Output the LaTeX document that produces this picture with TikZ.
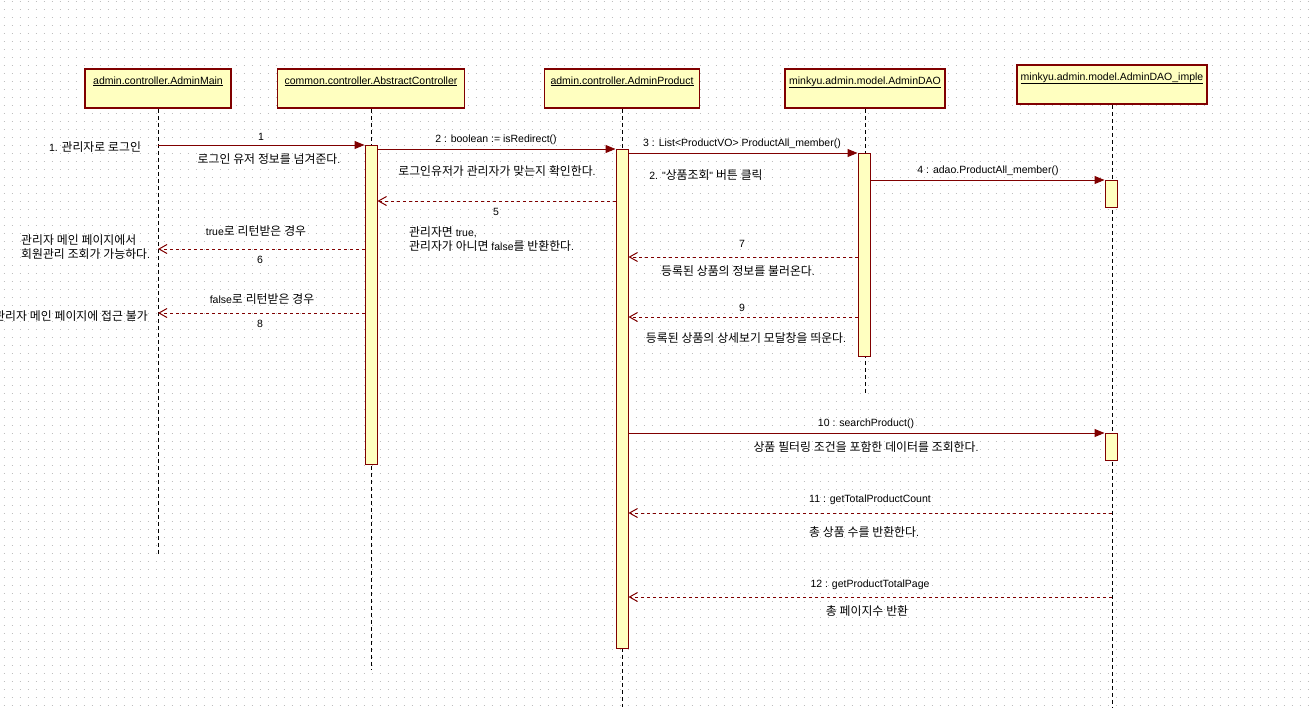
\documentclass[tikz,border=0pt]{standalone}
\usepackage{fontspec}
\setmainfont{Liberation Sans}[Ligatures=TeXOff]
\newfontfamily\latfont{Liberation Sans}[Ligatures=TeXOff]
\newfontfamily\hanfont{Noto Sans CJK KR}[Scale=1.13]
% hangul syllables switch to the korean face
\XeTeXinterchartokenstate=1
\newXeTeXintercharclass\hanclass
\count255="AC00
\loop\XeTeXcharclass\count255=\hanclass\advance\count255 by 1 \ifnum\count255<"D7A4 \repeat
\XeTeXinterchartoks 0 \hanclass = {\hanfont}
\XeTeXinterchartoks 4095 \hanclass = {\hanfont}
\XeTeXinterchartoks \hanclass 0 = {\latfont}
\XeTeXinterchartoks \hanclass 4095 = {\latfont}
\usetikzlibrary{arrows.meta}
\pgfdeclarelayer{bg}
\pgfsetlayers{bg,main}
\definecolor{umlred}{RGB}{128,0,0}
\definecolor{umlnote}{RGB}{255,255,192}
\definecolor{umldot}{RGB}{190,190,190}
\tikzset{
  obj/.style={draw=umlred, line width=1.5pt, fill=umlnote, inner sep=0pt, minimum height=39pt},
  act/.style={draw=umlred, line width=1pt, fill=umlnote, inner sep=0pt, minimum width=12pt, anchor=north},
  life/.style={black, line width=1pt, dash pattern=on 4pt off 3pt},
  call/.style={umlred, line width=1pt, -{Triangle[length=10pt,width=8pt]}},
  ret/.style={umlred, line width=1pt, dash pattern=on 3pt off 3pt, -{Straight Barb[length=8pt,width=9pt]}},
  msg/.style={inner sep=0pt},
  title/.style={label={[anchor=north, inner sep=0pt, yshift=-8pt]north:\underline{#1}}}
}
\begin{document}
\begin{tikzpicture}[x=1pt, y=-1pt, font=\fontsize{10.5}{14}\selectfont]
        \useasboundingbox (0,0) rectangle (1313,707);
        \clip (0,0) rectangle (1313,707);
        % lifeline heads
        \node (h0) [obj, minimum width=146pt, title={admin.controller.AdminMain}] at (158,88.5) {};
        \node (h1) [obj, minimum width=187pt, title={common.controller.AbstractController}] at (371,88.5) {};
        \node (h2) [obj, minimum width=155pt, title={admin.controller.AdminProduct}] at (622,88.5) {};
        \node (h3) [obj, minimum width=160pt, title={minkyu.admin.model.AdminDAO}] at (865,88.5) {};
        \node (h4) [obj, minimum width=190pt, title={minkyu.admin.model.AdminDAO\_imple}] at (1112,84.5) {};
        \coordinate (e0) at (158,556);
        \coordinate (e1) at (371,669);
        \coordinate (e2) at (622,707);
        \coordinate (e3) at (865,393);
        \coordinate (e4) at (1112,707);
        % activations
        \node (a1) [act, minimum height=319pt] at (371,145) {};
        \node (a2) [act, minimum height=499pt] at (622,149) {};
        \node (a3) [act, minimum height=203pt] at (864,153) {};
        \node (a4) [act, minimum height=27pt] at (1111,180) {};
        \node (a5) [act, minimum height=27pt] at (1111,433) {};
        % return rows
        \coordinate (r5) at (0,201);
        \coordinate (r6) at (0,249);
        \coordinate (r7) at (0,257);
        \coordinate (r8) at (0,313);
        \coordinate (r9) at (0,317);
        \coordinate (r11) at (0,513);
        \coordinate (r12) at (0,597);
        % texts
        \node (n1) [msg] at (95,147) {1. 관리자로 로그인};
        \node (t1) [msg] at (261,137) {1};
        \node (t1b) [msg] at (269,159) {로그인 유저 정보를 넘겨준다.};
        \node (t2) [msg] at (496,140) {2 : boolean := isRedirect()};
        \node (t2b) [msg] at (497,171) {로그인유저가 관리자가 맞는지 확인한다.};
        \node (t3) [msg] at (742,144) {3 : List<ProductVO> ProductAll\_member()};
        \node (n2) [msg] at (706,175) {2. "상품조회" 버튼 클릭};
        \node (t4) [msg] at (988,171) {4 : adao.ProductAll\_member()};
        \node (t5) [msg] at (496,212) {5};
        \node (t5b) [msg, anchor=west, align=left] at (409,239) {관리자면 true,\\관리자가 아니면 false를 반환한다.};
        \node (t6a) [msg] at (256,231) {true로 리턴받은 경우};
        \node (t6) [msg] at (260,260) {6};
        \node (n6) [msg, anchor=west, align=left] at (21,247) {관리자 메인 페이지에서\\회원관리 조회가 가능하다.};
        \node (t7) [msg] at (742,244) {7};
        \node (t7b) [msg] at (738,271) {등록된 상품의 정보를 불러온다.};
        \node (t8a) [msg] at (262,299) {false로 리턴받은 경우};
        \node (t8) [msg] at (260,324) {8};
        \node (n8) [msg, anchor=east] at (148,316) {관리자 메인 페이지에 접근 불가};
        \node (t9) [msg] at (742,308) {9};
        \node (t9b) [msg] at (746,338) {등록된 상품의 상세보기 모달창을 띄운다.};
        \node (t10) [msg] at (866,424) {10 : searchProduct()};
        \node (t10b) [msg] at (866,447) {상품 필터링 조건을 포함한 데이터를 조회한다.};
        \node (t11) [msg] at (870,500) {11 : getTotalProductCount};
        \node (t11b) [msg] at (864,532) {총 상품 수를 반환한다.};
        \node (t12) [msg] at (870,585) {12 : getProductTotalPage};
        \node (t12b) [msg] at (867,611) {총 페이지수 반환};
        % messages
        \draw [call] (a1.north west -| h0.south) -- (a1.north west);
        \draw [call] (a2.north west -| a1.east) -- (a2.north west);
        \draw [call] (a3.north west -| a2.east) -- (a3.north west);
        \draw [call] (a4.north west -| a3.east) -- (a4.north west);
        \draw [ret] (r5 -| a2.west) -- (r5 -| a1.east);
        \draw [ret] (r6 -| a1.west) -- (r6 -| h0.south);
        \draw [ret] (r7 -| a3.west) -- (r7 -| a2.east);
        \draw [ret] (r8 -| a1.west) -- (r8 -| h0.south);
        \draw [ret] (r9 -| a3.west) -- (r9 -| a2.east);
        \draw [call] (a5.north west -| a2.east) -- (a5.north west);
        \draw [ret] (r11 -| h4.south) -- (r11 -| a2.east);
        \draw [ret] (r12 -| h4.south) -- (r12 -| a2.east);
        \begin{pgfonlayer}{bg}
                \fill [white] (0,0) rectangle (1313,707);
                \foreach \gy in {1,9,...,705}
                        \draw [umldot, line width=1pt, dash pattern=on 1pt off 7pt] (3.5,\gy) -- (1313,\gy);
                \draw [life] (h0.south) -- (e0);
                \draw [life] (h1.south) -- (e1);
                \draw [life] (h2.south) -- (e2);
                \draw [life] (h3.south) -- (e3);
                \draw [life] (h4.south) -- (e4);
        \end{pgfonlayer}
\end{tikzpicture}
\end{document}
